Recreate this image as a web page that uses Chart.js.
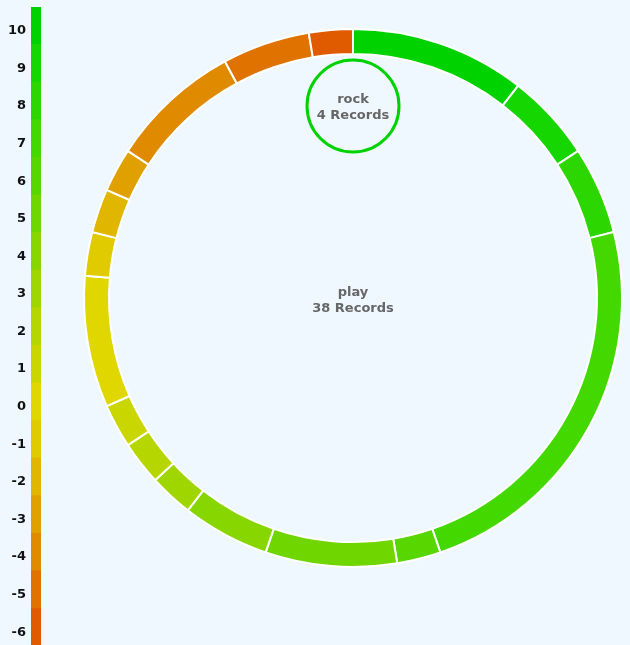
<!DOCTYPE html>
<html>
<head>
<meta charset="utf-8">
<script src="https://cdn.jsdelivr.net/npm/chart.js@4.4.0/dist/chart.umd.min.js"></script>
<style>
  html, body { margin: 0; padding: 0; background: #f0f8ff; }
  body { width: 630px; height: 645px; position: relative; overflow: hidden; }
  #ring { position: absolute; left: 0; top: 0; }
  #scale { position: absolute; left: 0; top: 7px; }
</style>
</head>
<body>
<canvas id="ring" width="630" height="645"></canvas>
<canvas id="scale" width="41" height="639"></canvas>
<script>
// scores shown in the colour scale, top to bottom
const scores = ['10', '9', '8', '7', '6', '5', '4', '3', '2', '1', '0', '-1', '-2', '-3', '-4', '-5', '-6'];
// how many records of "play" fall on each score
const recordCounts = [4, 2, 2, 9, 1, 3, 2, 1, 1, 1, 3, 1, 1, 1, 3, 2, 1];
const scoreColors = [
  '#00d200', '#16d600', '#2cd600', '#42d800', '#58d600', '#70d600', '#88d600', '#a0d600', '#b6d600',
  '#cad600', '#e0d600', '#e0ca00', '#e0b600', '#e0a000', '#e08a00', '#e07200', '#e05a00'
];
const groupName = 'play';
const childName = 'rock';
const childRecords = 4;

const totalRecords = recordCounts.reduce((a, b) => a + b, 0);
const labelFont = 'bold 13px "DejaVu Sans", Verdana, sans-serif';

const labelsPlugin = {
  id: 'nodeLabels',
  afterDraw(chart) {
    const arc = chart.getDatasetMeta(0).data[0];
    if (!arc) return;
    const ctx = chart.ctx;
    const cx = arc.x, cy = arc.y;
    const childR = 46;
    const childY = cy - arc.innerRadius + childR + 6;

    ctx.save();
    ctx.beginPath();
    ctx.arc(cx, childY, childR, 0, Math.PI * 2);
    ctx.lineWidth = 3;
    ctx.strokeStyle = scoreColors[0];
    ctx.stroke();

    ctx.font = labelFont;
    ctx.fillStyle = '#666666';
    ctx.textAlign = 'center';
    ctx.textBaseline = 'middle';
    ctx.fillText(groupName, cx, cy - 5);
    ctx.fillText(totalRecords + ' Records', cx, cy + 11);
    ctx.fillText(childName, cx, childY - 6);
    ctx.fillText(childRecords + ' Records', cx, childY + 10);
    ctx.restore();
  }
};

new Chart(document.getElementById('ring'), {
  type: 'doughnut',
  data: {
    labels: scores,
    datasets: [{
      data: recordCounts,
      backgroundColor: scoreColors,
      borderColor: '#ffffff',
      borderWidth: 2,
      hoverOffset: 0
    }]
  },
  options: {
    responsive: false,
    animation: false,
    events: [],
    cutout: 244,
    layout: { padding: { left: 83, right: 7, top: 28, bottom: 77 } },
    plugins: {
      legend: { display: false },
      tooltip: { enabled: false }
    }
  },
  plugins: [labelsPlugin]
});

new Chart(document.getElementById('scale'), {
  type: 'bar',
  data: {
    labels: scores,
    datasets: [{
      data: scores.map(() => 1),
      backgroundColor: scoreColors,
      borderWidth: 0,
      barPercentage: 1,
      categoryPercentage: 1
    }]
  },
  options: {
    indexAxis: 'y',
    responsive: false,
    animation: false,
    events: [],
    layout: { padding: 0 },
    scales: {
      x: { display: false, min: 0, max: 1 },
      y: {
        grid: { display: false, drawTicks: false },
        border: { display: false },
        afterFit(scale) {
          scale.width = 31;
          scale.paddingTop = 0;
          scale.paddingBottom = 0;
        },
        ticks: {
          color: '#111111',
          padding: 5,
          labelOffset: 5,
          font: { family: '"DejaVu Sans", Verdana, sans-serif', size: 13, weight: 'bold' }
        }
      }
    },
    plugins: {
      legend: { display: false },
      tooltip: { enabled: false }
    }
  }
});
</script>
</body>
</html>
